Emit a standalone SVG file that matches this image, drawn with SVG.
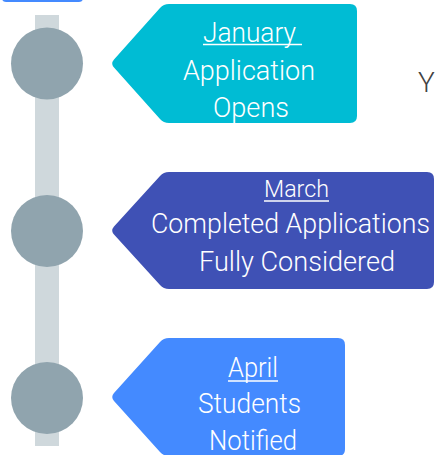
<svg xmlns="http://www.w3.org/2000/svg" width="435" height="455" viewBox="0 0 435 455">
  <style>
    .dot { fill: #90A4AE; }
    .bar { fill: #CFD8DC; }
    .lbl { font-family: Roboto, "Liberation Sans", sans-serif; font-weight: 300; fill: #FFFFFF; }
    .ul { stroke: #FFFFFF; stroke-width: 1.5; }
  </style>
  <rect x="0" y="0" width="435" height="455" fill="#FFFFFF"/>
  <g id="connectors">
    <rect class="bar" x="35" y="15" width="24" height="431"/>
  </g>
  <g id="top-tab">
    <rect x="2" y="-20" width="81" height="22" rx="4" fill="#448AFF"/>
  </g>
  <g id="dot-1"><circle class="dot" cx="47" cy="63.5" r="36"/></g>
  <g id="dot-2"><circle class="dot" cx="47" cy="231" r="36"/></g>
  <g id="dot-3"><circle class="dot" cx="47" cy="398" r="36"/></g>

  <g id="january">
    <path fill="#00BCD4" d="M 114,59.5 L 160,8 Q 163.5,4 169,4 H 350 Q 357,4 357,11 V 116 Q 357,123 350,123 H 169 Q 163.5,123 160,119 L 114,67.5 Q 110.5,63.5 114,59.5 Z"/>
    <text class="lbl" x="203" y="42" font-size="27" textLength="93" lengthAdjust="spacingAndGlyphs">January</text>
    <line class="ul" x1="203" y1="44.5" x2="302" y2="44.5"/>
    <text class="lbl" x="183" y="80" font-size="27.5" textLength="132" lengthAdjust="spacingAndGlyphs">Application</text>
    <text class="lbl" x="213" y="117" font-size="27.5" textLength="76" lengthAdjust="spacingAndGlyphs">Opens</text>
  </g>

  <g id="march">
    <path fill="#3F51B5" d="M 114,226.5 L 160,176 Q 163.5,172 169,172 H 427 Q 434,172 434,179 V 282 Q 434,289 427,289 H 169 Q 163.5,289 160,285 L 114,234.5 Q 110.5,230.5 114,226.5 Z"/>
    <text class="lbl" x="264" y="197" font-size="24" textLength="65" lengthAdjust="spacingAndGlyphs">March</text>
    <line class="ul" x1="264" y1="201" x2="329" y2="201"/>
    <text class="lbl" x="151" y="233" font-size="28" textLength="279" lengthAdjust="spacingAndGlyphs">Completed Applications</text>
    <text class="lbl" x="199" y="271" font-size="28" textLength="196" lengthAdjust="spacingAndGlyphs">Fully Considered</text>
  </g>

  <g id="april">
    <path fill="#448AFF" d="M 114,393 L 160,342 Q 163.5,338 169,338 H 338 Q 345,338 345,345 V 449 Q 345,456 338,456 H 169 Q 163.5,456 160,452 L 114,401 Q 110.5,397 114,393 Z"/>
    <text class="lbl" x="228" y="377" font-size="27.5" textLength="50" lengthAdjust="spacingAndGlyphs">April</text>
    <line class="ul" x1="228" y1="381" x2="278" y2="381"/>
    <text class="lbl" x="198" y="413" font-size="27.5" textLength="103" lengthAdjust="spacingAndGlyphs">Students</text>
    <text class="lbl" x="209" y="450" font-size="27.5" textLength="88" lengthAdjust="spacingAndGlyphs">Notified</text>
  </g>

  <g id="y-label">
    <text x="418" y="92" font-family="Roboto, 'Liberation Sans', sans-serif" font-weight="300" font-size="28" fill="#424242">Y</text>
  </g>
</svg>
